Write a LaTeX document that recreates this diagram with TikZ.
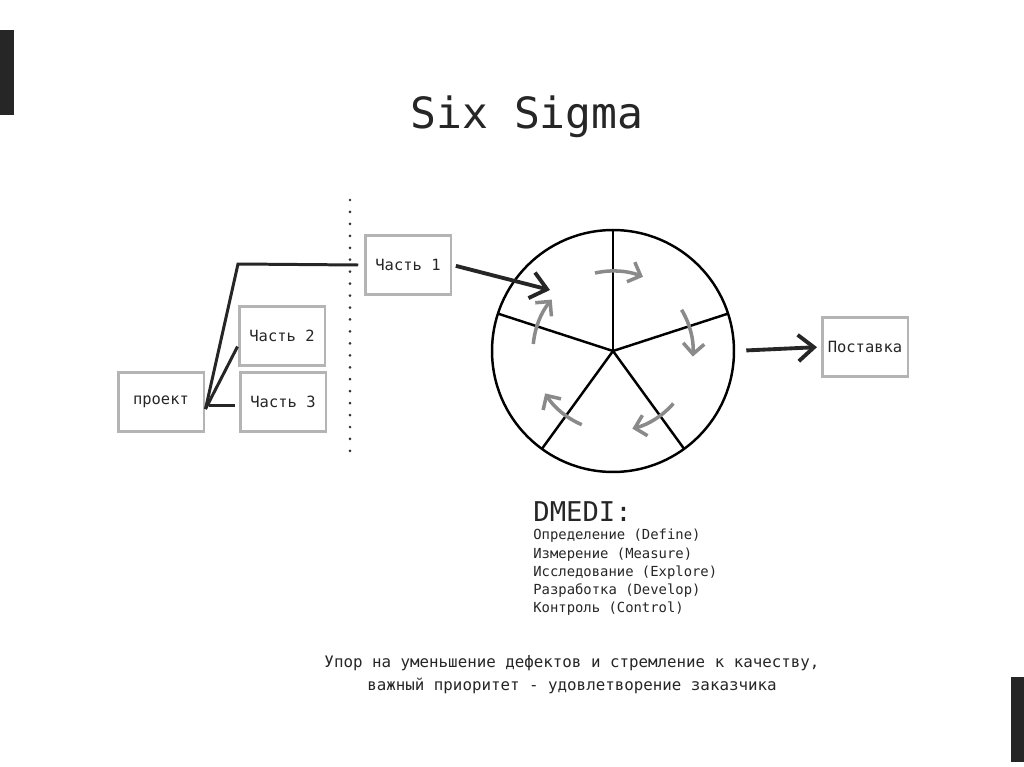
\documentclass[tikz,border=0pt]{standalone}
\usepackage{fontspec}
\setmonofont{DejaVu Sans Mono}
\usetikzlibrary{arrows.meta}
\definecolor{ink}{HTML}{262626}
\definecolor{boxgray}{HTML}{B4B4B4}
\definecolor{turngray}{HTML}{8A8A8A}
\definecolor{barblack}{HTML}{262626}

\tikzset{
  part/.style={draw=boxgray, line width=1.7pt, minimum width=1.72cm, minimum height=1.18cm,
    inner sep=0pt, font=\ttfamily\fontsize{8.8}{10}\selectfont, text=ink},
  link/.style={line width=1.7pt, black!85},
  bigarrow/.style={line width=2.2pt, black!85, -{Straight Barb[length=9pt,width=15pt]}},
  turn/.style={line width=2pt, turngray, -{Straight Barb[length=6pt,width=12pt]}},
  dotline/.style={line width=1.7pt, black!80, line cap=round, dash pattern=on 0pt off 6.8pt},
}

\begin{document}
\begin{tikzpicture}[x=0.02cm, y=0.02cm]
    \useasboundingbox (0,0) rectangle (1024,-767);

    % side bars
    \fill[barblack] (0,-30) rectangle (14,-115);
    \fill[barblack] (1011,-677) rectangle (1024,-762);

    \node[font=\ttfamily\fontsize{24.5}{28}\selectfont, text=ink] (title) at (527,-117) {Six Sigma};

    % project split into parts
    \node[part] (proj) at (161,-402) {проект};
    \node[part] (p2) at (282,-336) {Часть 2};
    \node[part] (p3) at (283,-402) {Часть 3};
    \node[part] (p1) at (408,-265) {Часть 1};
    \draw[dotline] (350,-200) -- (350,-460);

    \coordinate (bend) at (238,-264);
    \draw[link] ([yshift=-4pt]proj.east) -- (bend) -- ([xshift=-3pt]p1.west);
    \draw[link] ([yshift=-4pt]proj.east) -- ([yshift=-6pt]p2.west);
    \draw[link] ([xshift=2pt,yshift=-2pt]proj.east) -- ([xshift=-2pt,yshift=-2pt]p3.west);

    % DMEDI wheel
    \node[circle, draw, line width=1.4pt, minimum size=4.84cm, inner sep=0pt, outer sep=0pt] (wheel) at (613,-351) {};
    \foreach \a in {90,18,-54,-126,162}
        \draw[line width=1.4pt] (wheel.center) -- (wheel.\a);
    \foreach \a in {90,18,-54,-126,162}
        \draw[turn] ([shift={(\a+13:80)}]wheel.center) arc[start angle=\a+13, end angle=\a-22, radius=80];

    \coordinate (in1) at (550,-290);
    \draw[bigarrow, shorten <=2pt] (p1.east) -- (in1);

    \node[part] (post) at (865,-347) {Поставка};
    \draw[bigarrow, shorten <=7pt, shorten >=2pt] (wheel.east) -- (post.west);

    % legend
    \node[anchor=base west, inner sep=0pt, font=\ttfamily\fontsize{15.5}{18}\selectfont, text=ink] (dmedi) at (533,-521) {DMEDI:};
    \node[anchor=north west, inner sep=0pt, align=left, font=\ttfamily\fontsize{7.9}{10.4}\selectfont, text=ink] (steps) at (533,-529)
        {Определение (Define)\\Измерение (Measure)\\Исследование (Explore)\\Разработка (Develop)\\Контроль (Control)};

    \node[align=center, font=\ttfamily\fontsize{9}{13}\selectfont, text=ink] (motto) at (572,-675)
        {Упор на уменьшение дефектов и стремление к качеству,\\важный приоритет - удовлетворение заказчика};
\end{tikzpicture}
\end{document}
